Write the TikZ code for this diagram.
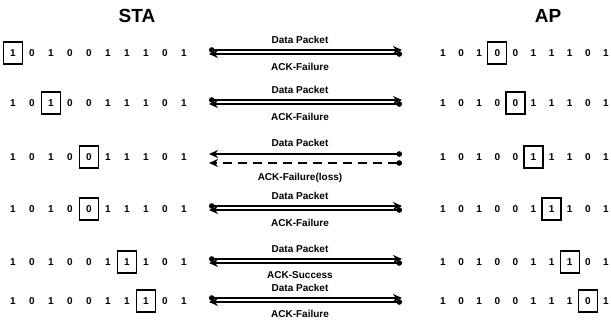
\documentclass[tikz,border=0pt]{standalone}
\usepackage{fontspec}
\setmainfont{Liberation Sans}
\usetikzlibrary{arrows.meta}

\tikzset{
    title/.style={inner sep=0pt, font=\bfseries\fontsize{19}{21}\selectfont},
    bit/.style={inner sep=0pt, font=\bfseries\fontsize{10}{12}\selectfont},
    bitbox/.style={draw, line width=1.3pt, minimum width=19pt, minimum height=22pt},
    msglabel/.style={inner sep=0pt, font=\bfseries\fontsize{10}{12}\selectfont},
    msg/.style={line width=1.5pt, {Circle[length=5.5pt]}-{Stealth[length=9pt,width=8pt]}},
}

\begin{document}
\begin{tikzpicture}[x=1pt, y=-1pt]
\useasboundingbox (0,0) rectangle (611,324);

% STA / AP
\node (sta) [
    title,
    align=center
] at (137,16) {STA};
\node (ap) [
    title,
    align=center
] at (548,16) {AP};

% bits
\foreach \r/\y in {1/53, 2/103, 3/157, 4/209, 5/262, 6/301}{
    \foreach \b [count=\i from 0] in {1,0,1,0,0,1,1,1,0,1}{
        \node (s\r-\i) [bit] at (13+19*\i, \y) {\b};
        \node (a\r-\i) [bit] at (443+18.1*\i, \y) {\b};
    }
    \coordinate (dpl\r) at (209, \y-3);
    \coordinate (dpr\r) at (402, \y-3);
    \coordinate (ackl\r) at (209, \y+1);
    \coordinate (ackr\r) at (402, \y+1);
}

% pointer boxes
\foreach \r/\s/\a in {1/0/3, 2/2/4, 3/4/5, 4/4/6, 5/6/7, 6/7/8}{
    \node (sbox\r) [bitbox] at (s\r-\s) {};
    \node (abox\r) [bitbox] at (a\r-\a) {};
}

%-------------------------------------
% row 1
\node (dp1) [msglabel] at (300,40) {Data Packet};
\node (ack1) [msglabel] at (300,67) {ACK-Failure};
\draw [msg] (dpl1) -- (dpr1);
\draw [msg] (ackr1) -- (ackl1);

% row 2
\node (dp2) [msglabel] at (300,90) {Data Packet};
\node (ack2) [msglabel] at (300,117) {ACK-Failure};
\draw [msg] (dpl2) -- (dpr2);
\draw [msg] (ackr2) -- (ackl2);

% row 3 (loss)
\coordinate (ackl3b) at (209,163);
\coordinate (ackr3b) at (402,163);
\node (dp3) [msglabel] at (300,143) {Data Packet};
\node (ack3) [msglabel] at (300,178) {ACK-Failure(loss)};
\draw [msg] (dpr3) -- (dpl3);
\draw [msg, dash pattern=on 9pt off 6pt] (ackr3b) -- (ackl3b);

% row 4
\node (dp4) [msglabel] at (300,196) {Data Packet};
\node (ack4) [msglabel] at (300,223) {ACK-Failure};
\draw [msg] (dpl4) -- (dpr4);
\draw [msg] (ackr4) -- (ackl4);

% row 5
\node (dp5) [msglabel] at (300,249) {Data Packet};
\node (ack5) [msglabel] at (300,275) {ACK-Success};
\draw [msg] (dpl5) -- (dpr5);
\draw [msg] (ackr5) -- (ackl5);

% row 6
\node (dp6) [msglabel] at (300,288) {Data Packet};
\node (ack6) [msglabel] at (300,314) {ACK-Failure};
\draw [msg] (dpl6) -- (dpr6);
\draw [msg] (ackr6) -- (ackl6);

\end{tikzpicture}
\end{document}
